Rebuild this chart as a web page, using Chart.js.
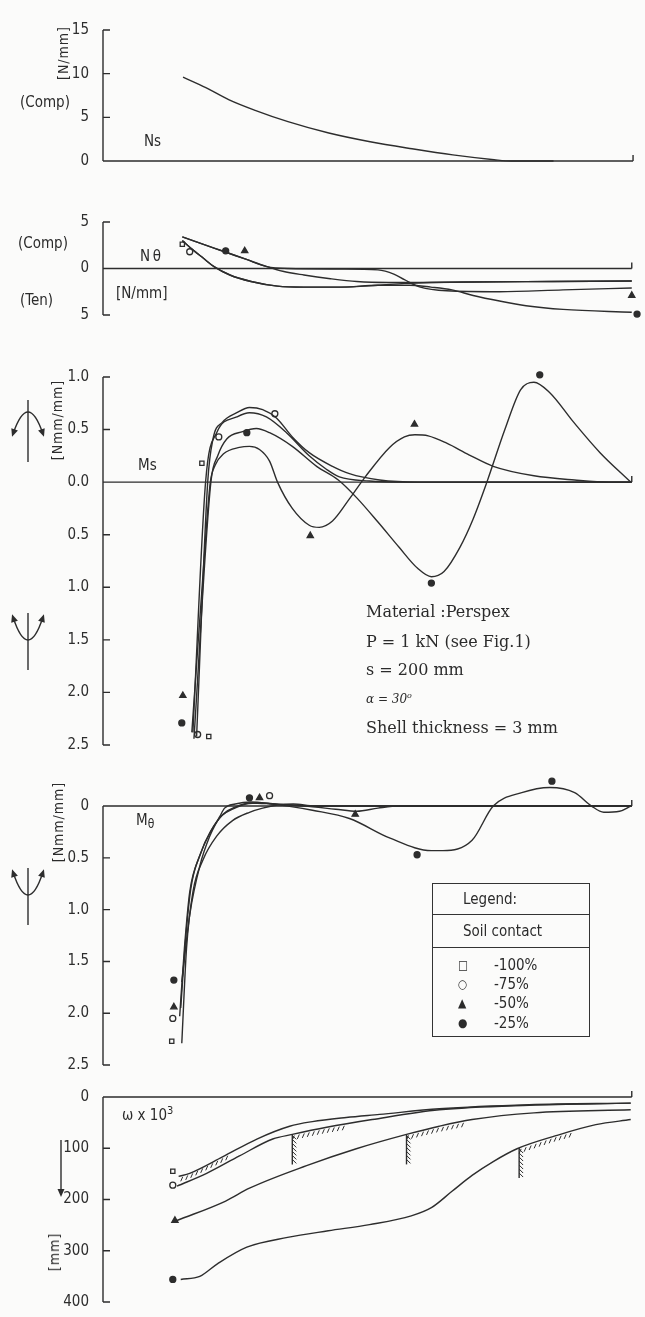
<!DOCTYPE html>
<html>
<head>
<meta charset="utf-8">
<script src="https://cdn.jsdelivr.net/npm/chart.js@4.4.1/dist/chart.umd.min.js"></script>
<style>
  html, body { margin: 0; padding: 0; background: #fbfbfa; }
  #page { position: relative; width: 645px; height: 1317px; overflow: hidden; color: #2b2b2b;
          font-family: "DejaVu Sans Condensed", "DejaVu Sans", sans-serif; }
  canvas { position: absolute; left: 0; }
  .t { position: absolute; white-space: nowrap; font-size: 15px; line-height: 1; transform: translateY(-50%); }
  .rot { transform: translate(-50%, -50%) rotate(-90deg); letter-spacing: 1px; font-size: 14px; }
  .serif { font-family: "DejaVu Serif", "Liberation Serif", serif; font-size: 16px; }
  #legend { position: absolute; left: 432px; top: 883px; width: 158px; height: 154px;
            border: 1.5px solid #333; box-sizing: border-box; }
  #legend .hr { position: absolute; left: 0; right: 0; border-top: 1.5px solid #333; }
  #legend .t { font-size: 15px; }
</style>
</head>
<body>
<div id="page">
  <canvas id="pNs" width="645" height="180" style="top:0"></canvas>
  <canvas id="pNt" width="645" height="150" style="top:180px"></canvas>
  <canvas id="pMs" width="645" height="430" style="top:330px"></canvas>
  <canvas id="pMt" width="645" height="320" style="top:760px"></canvas>
  <canvas id="pW" width="645" height="237" style="top:1080px"></canvas>

  <!-- Ns -->
  <div class="t rot" style="left:63px;top:53px">[N/mm]</div>
  <div class="t" style="left:20px;top:102px">(Comp)</div>
  <div class="t" style="left:144px;top:141px">Ns</div>
  <!-- N theta -->
  <div class="t" style="left:18px;top:243px">(Comp)</div>
  <div class="t" style="left:140px;top:256px">N&thinsp;θ</div>
  <div class="t" style="left:20px;top:300px">(Ten)</div>
  <div class="t" style="left:116px;top:293px">[N/mm]</div>
  <!-- Ms -->
  <div class="t rot" style="left:57px;top:420px">[Nmm/mm]</div>
  <div class="t" style="left:138px;top:465px">Ms</div>
  <div class="t serif" style="left:366px;top:612px">Material :Perspex</div>
  <div class="t serif" style="left:366px;top:642px">P = 1 kN (see Fig.1)</div>
  <div class="t serif" style="left:366px;top:670px">s = 200 mm</div>
  <div class="t serif" style="left:366px;top:698px;font-size:12px;font-style:italic">α = 30<sup style="font-size:8px">o</sup></div>
  <div class="t serif" style="left:366px;top:728px">Shell thickness = 3 mm</div>
  <!-- M theta -->
  <div class="t rot" style="left:58px;top:822px">[Nmm/mm]</div>
  <div class="t" style="left:136px;top:820px">M<span style="font-size:12px;position:relative;top:3px">θ</span></div>
  <div id="legend">
    <div class="t" style="left:30px;top:15px">Legend:</div>
    <div class="hr" style="top:30px"></div>
    <div class="t" style="left:30px;top:47px">Soil contact</div>
    <div class="hr" style="top:63px"></div>
    <div class="t" style="left:25px;top:81px;font-size:12px">□</div>
    <div class="t" style="left:61px;top:81px">-100%</div>
    <div class="t" style="left:25px;top:100px;font-size:12px">○</div>
    <div class="t" style="left:61px;top:100px">-75%</div>
    <div class="t" style="left:25px;top:119px;font-size:12px">▲</div>
    <div class="t" style="left:61px;top:119px">-50%</div>
    <div class="t" style="left:25px;top:139px;font-size:12px">●</div>
    <div class="t" style="left:61px;top:139px">-25%</div>
  </div>
  <!-- W -->
  <div class="t" style="left:122px;top:1114px">ω x 10<sup style="font-size:11px">3</sup></div>
  <div class="t rot" style="left:54px;top:1252px">[mm]</div>
</div>

<script>
// ---- data: [x along the shell (0..100), value] ----
// Ns (compression, N/mm)
const nsCurve = [[15.1, 9.6], [19.4, 8.4], [23.8, 7.0], [28.7, 5.8], [34.9, 4.5], [42.6, 3.2], [50.4, 2.2],
                 [58.3, 1.4], [66, 0.7], [73.8, 0.15], [77, 0], [85, 0]];

// N theta, one curve per soil contact
const ntC100 = [[15, 3.4], [19, 2.6], [23, 1.8], [27, 1.0], [31, 0.2], [34, -0.3], [38, -0.7], [43, -1.1],
                [48, -1.4], [54, -1.5], [60, -1.5], [70, -1.45], [85, -1.4], [100, -1.35]];
const ntC75 = [[15, 3.0], [17, 2.0], [19, 1.1], [21, 0.2], [24, -0.7], [28, -1.4], [33, -1.9], [38, -2.0],
               [45, -2.0], [52, -1.8], [57, -1.6], [62, -1.5], [70, -1.45], [85, -1.4], [100, -1.35]];
const ntC50 = [[15, 3.4], [19, 2.6], [23, 1.8], [27, 1.0], [31, 0.2], [35, 0], [45, -0.05], [52, -0.15],
               [55, -0.6], [57, -1.2], [60, -2.0], [65, -2.4], [75, -2.5], [87, -2.3], [100, -2.1]];
const ntC25 = [[15, 3.0], [17, 2.0], [19, 1.1], [21, 0.2], [24, -0.7], [28, -1.4], [33, -1.9], [38, -2.0],
               [45, -2.0], [52, -1.8], [58, -1.8], [62, -2.0], [66, -2.3], [70, -2.9], [75, -3.5], [80, -4.0],
               [87, -4.4], [100, -4.7]];
const ntM100 = [[15.0, 2.6]];
const ntM75 = [[16.4, 1.8]];
const ntM50 = [[26.8, 1.9], [100, -2.9]];
const ntM25 = [[23.2, 1.9], [101, -4.9]];

// Ms (Nmm/mm)
const msC100 = [[17.7, -2.42], [19.8, 0], [20.8, 0.41], [22.6, 0.57], [25.3, 0.66], [27.7, 0.71], [30.2, 0.69],
                [32.8, 0.61], [35.8, 0.43], [39, 0.28], [43.4, 0.15], [46.6, 0.08], [52.3, 0.02], [59.8, 0], [100, 0]];
const msC75 = [[17.0, -2.38], [19.4, 0], [21.5, 0.47], [25.3, 0.62], [27.7, 0.66], [30.9, 0.62], [34.7, 0.47],
               [39, 0.25], [42.3, 0.12], [44.7, 0.05], [50.4, 0.01], [56, 0], [100, 0]];
const msC50 = [[16.8, -2.38], [19.6, -0.4], [20.3, 0], [21.2, 0.16], [22.8, 0.27], [25.8, 0.33], [27.7, 0.34],
               [29.6, 0.31], [31.5, 0.2], [33, 0], [35.8, -0.25], [39, -0.41], [40.9, -0.43], [43.4, -0.37],
               [46.6, -0.16], [49.6, 0.05], [54.2, 0.33], [57, 0.43], [59, 0.45], [61.5, 0.44], [65, 0.37],
               [69.2, 0.26], [73.8, 0.15], [81.5, 0.06], [89.2, 0.02], [95.7, 0], [100, 0]];
const msC25 = [[17.2, -2.44], [20.4, 0], [21.7, 0.25], [23.4, 0.41], [26.4, 0.48], [29, 0.51], [31.5, 0.47],
               [35.8, 0.34], [40.4, 0.15], [44.5, 0.02], [48, -0.15], [52, -0.38], [56, -0.62], [59.5, -0.82],
               [62.1, -0.9], [64.5, -0.85], [67.5, -0.62], [70, -0.35], [72.6, 0], [76, 0.5], [79, 0.88],
               [81.5, 0.95], [84.5, 0.85], [89, 0.57], [94, 0.28], [99.8, 0]];
const msM100 = [[18.7, 0.18], [20, -2.42]];
const msM75 = [[21.9, 0.43], [32.5, 0.65], [17.9, -2.4]];
const msM50 = [[15.1, -2.03], [39.2, -0.51], [58.9, 0.55]];
const msM25 = [[14.9, -2.29], [27.2, 0.47], [62.1, -0.96], [82.6, 1.02]];

// M theta (Nmm/mm)
const mtC100 = [[14.9, -2.29], [15.8, -1.37], [17.0, -0.83], [18.9, -0.52], [21.5, -0.29], [24.5, -0.14],
                [27.7, -0.06], [30.2, -0.02], [33, 0.01], [36, 0.02], [40, 0], [100, 0]];
const mtC75 = [[14.5, -2.03], [15.4, -1.37], [16.4, -0.83], [18.3, -0.48], [20.2, -0.26], [22.5, -0.09],
               [24.5, -0.03], [27, 0.02], [30, 0.03], [35, 0.01], [40, 0], [100, 0]];
const mtC50 = [[14.7, -1.95], [15.6, -1.3], [16.6, -0.8], [18.5, -0.45], [20.4, -0.24], [22.7, -0.08],
               [25, -0.01], [28, 0.03], [32, 0.02], [38, 0], [44, -0.03], [48, -0.05], [52, -0.02], [56, 0], [100, 0]];
const mtC25 = [[14.9, -1.70], [16.4, -1.05], [18.3, -0.58], [20.2, -0.29], [22.1, -0.1], [23, -0.02], [25, 0.02],
               [28, 0.04], [32, 0.02], [35, 0], [39.6, -0.04], [46.6, -0.12], [54.3, -0.31], [62.1, -0.43],
               [64.3, -0.43], [69.8, -0.33], [73.8, 0], [79.2, 0.13], [84.5, 0.18], [89.2, 0.13], [92.4, 0],
               [94.7, -0.06], [97.7, -0.05], [99.8, 0]];
const mtM100 = [[13.0, -2.27]];
const mtM75 = [[13.2, -2.05], [31.5, 0.1]];
const mtM50 = [[13.4, -1.94], [29.6, 0.08], [47.7, -0.08]];
const mtM25 = [[13.4, -1.68], [27.7, 0.08], [59.4, -0.47], [84.9, 0.24]];

// W x 10^3 (mm), downwards positive
const wC100 = [[14.3, 155], [16.4, 149], [22.6, 117], [29.1, 82], [35.3, 57], [39.6, 48], [46, 40], [52.3, 34],
               [63.6, 23], [80.6, 15], [99.8, 12]];
const wC75 = [[14.0, 174], [19.6, 149], [25.8, 115], [32.1, 82], [35.8, 73], [42.3, 59], [50.9, 44], [63.6, 25],
              [80.6, 16], [99.8, 12]];
const wC50 = [[14.0, 241], [23.2, 203], [27.7, 178], [38.5, 134], [47.9, 101], [57.4, 73], [63.6, 57], [69.8, 44],
              [81.5, 31], [99.8, 25]];
const wC25 = [[14.7, 356], [18.3, 350], [21.7, 325], [27.2, 293], [34.9, 274], [42.6, 261], [50.4, 249],
              [58.3, 232], [62.1, 216], [66, 184], [69.8, 153], [73.8, 126], [78.3, 101], [85.5, 76], [93.2, 54],
              [99.8, 44]];
const wM100 = [[13.2, 145]];
const wM75 = [[13.2, 172]];
const wM50 = [[13.6, 241]];
const wM25 = [[13.2, 356]];
// soil contact stretches drawn with hatching
const wContactCurve = [wC100, wC75, wC50, wC25];
const wContactFrom = [14.7, 35.8, 57.4, 78.7];
const wContactTo = [24.0, 46.0, 68.3, 89.2];
const wContactWall = [false, true, true, true];

// ---- drawing ----
const INK = '#2d2d2d';
const FONT = '"DejaVu Sans Condensed", "DejaVu Sans", sans-serif';
const X_END = 100;     // end of the drawn zero line
const pts = a => a.map(p => ({ x: p[0], y: p[1] }));

function curve(arr) {
    return { data: pts(arr), borderColor: INK, borderWidth: 1.4, pointRadius: 0, fill: false,
             cubicInterpolationMode: 'monotone', clip: false };
}

const MARKS = {
    sq: { pointStyle: 'rect', pointRadius: 3, pointBackgroundColor: 'rgba(0,0,0,0)' },
    ci: { pointStyle: 'circle', pointRadius: 3, pointBackgroundColor: 'rgba(0,0,0,0)' },
    tr: { pointStyle: 'triangle', pointRadius: 3.6, pointBackgroundColor: INK },
    dot: { pointStyle: 'circle', pointRadius: 3, pointBackgroundColor: INK }
};

function marks(arr, kind) {
    return Object.assign({ data: pts(arr), showLine: false, clip: false, pointBorderColor: INK,
                           pointBorderWidth: 1.3, borderColor: INK }, MARKS[kind]);
}

// tickMin/tickMax: range that carries ticks; min/max: full range of the plot box
function yAxis(min, max, step, fmt, tickMin, tickMax, reverse) {
    return {
        min, max, reverse: !!reverse,
        afterFit: s => { s.width = 103; },
        afterBuildTicks: s => {
            s.ticks = s.ticks.filter(t => t.value >= tickMin - 1e-9 && t.value <= tickMax + 1e-9 &&
                                          Math.abs(t.value / step - Math.round(t.value / step)) < 1e-6);
        },
        ticks: { stepSize: step, includeBounds: false, color: INK, font: { family: FONT, size: 15 },
                 padding: 6, callback: fmt },
        grid: { display: false },
        border: { display: false }
    };
}

// axis line, inward tick marks, zero line and its end mark
Chart.register({
    id: 'axisFrame',
    beforeDatasetsDraw(chart) {
        const y = chart.scales.y, x = chart.scales.x, ctx = chart.ctx;
        const px = y.ticks.map(t => y.getPixelForValue(t.value));
        const left = x.getPixelForValue(0), right = x.getPixelForValue(X_END), z = y.getPixelForValue(0);
        ctx.save();
        ctx.strokeStyle = INK;
        ctx.lineWidth = 1.4;
        ctx.beginPath();
        ctx.moveTo(left, Math.min(...px)); ctx.lineTo(left, Math.max(...px));
        ctx.moveTo(left, z); ctx.lineTo(right, z);
        ctx.moveTo(right, z); ctx.lineTo(right, z - 6);
        px.forEach(p => { ctx.moveTo(left, p); ctx.lineTo(left + 7, p); });
        ctx.stroke();
        ctx.restore();
    }
});

function head(ctx, x, y, dx, dy) {
    const L = Math.hypot(dx, dy), ux = dx / L, uy = dy / L;
    ctx.beginPath();
    ctx.moveTo(x + ux * 3, y + uy * 3);
    ctx.lineTo(x - ux * 5 - uy * 3.5, y - uy * 5 + ux * 3.5);
    ctx.lineTo(x - ux * 5 + uy * 3.5, y - uy * 5 - ux * 3.5);
    ctx.closePath();
    ctx.fill();
}

// moment sign symbols at the left margin
function momentSymbol(ctx, cx, top, bottom, hogging) {
    ctx.save();
    ctx.strokeStyle = INK; ctx.fillStyle = INK; ctx.lineWidth = 1.4;
    ctx.beginPath(); ctx.moveTo(cx, top); ctx.lineTo(cx, bottom); ctx.stroke();
    ctx.beginPath();
    if (hogging) {
        ctx.moveTo(cx - 15, top + 34); ctx.quadraticCurveTo(cx, top - 10, cx + 15, top + 34); ctx.stroke();
        head(ctx, cx - 15, top + 34, -15, 44);
        head(ctx, cx + 15, top + 34, 15, 44);
    } else {
        ctx.moveTo(cx - 15, top + 4); ctx.quadraticCurveTo(cx, top + 50, cx + 15, top + 4); ctx.stroke();
        head(ctx, cx - 15, top + 4, -15, -46);
        head(ctx, cx + 15, top + 4, 15, -46);
    }
    ctx.restore();
}

function interp(arr, x) {
    for (let i = 1; i < arr.length; i++) {
        if (x <= arr[i][0]) {
            const [x0, y0] = arr[i - 1], [x1, y1] = arr[i];
            return y0 + (y1 - y0) * (x - x0) / (x1 - x0);
        }
    }
    return arr[arr.length - 1][1];
}

function makePanel(id, yCfg, pad, datasets, deco) {
    return new Chart(document.getElementById(id), {
        type: 'line',
        data: { datasets },
        options: {
            responsive: false,
            animation: false,
            events: [],
            // x runs a little past the zero line so end markers stay inside the plot box
            layout: { padding: { top: pad[0], bottom: pad[1], left: 0, right: 4 } },
            plugins: { legend: { display: false }, tooltip: { enabled: false } },
            scales: { x: { type: 'linear', min: 0, max: 101.5, display: false }, y: yCfg }
        },
        plugins: deco ? [{ id: id + 'Deco', afterDraw: deco }] : []
    });
}

const absFmt = v => String(Math.abs(v));

makePanel('pNs', yAxis(0, 15, 5, v => String(v), 0, 15), [30, 19], [curve(nsCurve)]);

makePanel('pNt', yAxis(-5, 5, 5, absFmt, -5, 5), [42, 15], [
    curve(ntC100), curve(ntC75), curve(ntC50), curve(ntC25),
    marks(ntM100, 'sq'), marks(ntM75, 'ci'), marks(ntM50, 'tr'), marks(ntM25, 'dot')
]);

makePanel('pMs', yAxis(-2.5, 1.05, 0.5, v => Math.abs(v).toFixed(1), -2.5, 1.0), [41.7, 15], [
    curve(msC100), curve(msC75), curve(msC50), curve(msC25),
    marks(msM100, 'sq'), marks(msM75, 'ci'), marks(msM50, 'tr'), marks(msM25, 'dot')
], chart => {
    momentSymbol(chart.ctx, 28, 70, 132, true);
    momentSymbol(chart.ctx, 28, 283, 340, false);
});

makePanel('pMt', yAxis(-2.5, 0.3, 0.5, v => (v === 0 ? '0' : Math.abs(v).toFixed(1)), -2.5, 0), [10.2, 13], [
    curve(mtC100), curve(mtC75), curve(mtC50), curve(mtC25),
    marks(mtM100, 'sq'), marks(mtM75, 'ci'), marks(mtM50, 'tr'), marks(mtM25, 'dot')
], chart => {
    momentSymbol(chart.ctx, 28, 108, 165, false);
});

makePanel('pW', yAxis(0, 400, 100, v => String(v), 0, 400, true), [17, 11], [
    curve(wC100), curve(wC75), curve(wC50), curve(wC25),
    marks(wM100, 'sq'), marks(wM75, 'ci'), marks(wM50, 'tr'), marks(wM25, 'dot')
], chart => {
    const ctx = chart.ctx, xs = chart.scales.x, ys = chart.scales.y;
    ctx.save();
    ctx.strokeStyle = INK; ctx.fillStyle = INK; ctx.lineWidth = 1.4;
    // downward arrow beside the axis
    ctx.beginPath(); ctx.moveTo(61, 60); ctx.lineTo(61, 112); ctx.stroke();
    head(ctx, 61, 114, 0, 1);
    // hatching under the curves where the shell touches the soil
    ctx.lineWidth = 1;
    wContactCurve.forEach((arr, k) => {
        const x0 = xs.getPixelForValue(wContactFrom[k]), x1 = xs.getPixelForValue(wContactTo[k]);
        for (let px = x0 + 2; px <= x1; px += 5) {
            const py = ys.getPixelForValue(interp(arr, xs.getValueForPixel(px)));
            ctx.beginPath(); ctx.moveTo(px, py + 1.5); ctx.lineTo(px - 2, py + 6); ctx.stroke();
        }
        if (wContactWall[k]) {
            const wy = ys.getPixelForValue(interp(arr, wContactFrom[k]));
            ctx.lineWidth = 1.4;
            ctx.beginPath(); ctx.moveTo(x0, wy); ctx.lineTo(x0, wy + 30); ctx.stroke();
            ctx.lineWidth = 1;
            for (let h = wy + 4; h <= wy + 30; h += 4) {
                ctx.beginPath(); ctx.moveTo(x0, h - 3); ctx.lineTo(x0 + 4, h + 1); ctx.stroke();
            }
        }
    });
    ctx.restore();
});
</script>
</body>
</html>
